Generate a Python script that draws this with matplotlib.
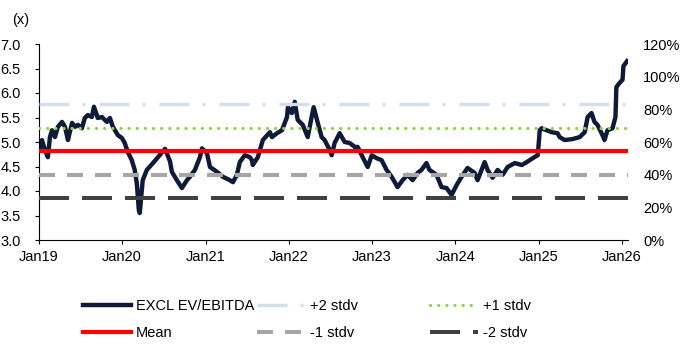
import matplotlib
matplotlib.use("Agg")
import matplotlib.pyplot as plt
import matplotlib.dates as mdates
from matplotlib.ticker import FuncFormatter, FormatStrFormatter
import pandas as pd

plt.rcParams['font.family'] = ['Liberation Sans', 'DejaVu Sans']
plt.rcParams['lines.scale_dashes'] = False

# ---- data -------------------------------------------------------------
dates = [
    "2019-01-01", "2019-01-05", "2019-01-14", "2019-01-27", "2019-02-09", "2019-02-18",
    "2019-02-27", "2019-03-12", "2019-03-25", "2019-04-12", "2019-04-25", "2019-05-08",
    "2019-05-26", "2019-06-08", "2019-06-21", "2019-07-08", "2019-07-21", "2019-08-03",
    "2019-08-21", "2019-08-30", "2019-09-16", "2019-10-04", "2019-10-26", "2019-11-08",
    "2019-11-21", "2019-12-13", "2019-12-31", "2020-01-12", "2020-01-25", "2020-02-12",
    "2020-02-25", "2020-03-05", "2020-03-14", "2020-03-18", "2020-03-31", "2020-04-18",
    "2020-05-15", "2020-06-06", "2020-07-07", "2020-07-29", "2020-08-06", "2020-08-28",
    "2020-09-19", "2020-10-11", "2020-10-24", "2020-11-15", "2020-12-07", "2020-12-16",
    "2021-01-07", "2021-01-20", "2021-02-20", "2021-03-18", "2021-04-17", "2021-05-01",
    "2021-05-18", "2021-05-31", "2021-06-22", "2021-07-14", "2021-07-23", "2021-07-27",
    "2021-08-18", "2021-09-09", "2021-10-10", "2021-10-19", "2021-11-10", "2021-12-02",
    "2021-12-24", "2021-12-28", "2022-01-14", "2022-01-27", "2022-02-09", "2022-03-03",
    "2022-03-25", "2022-04-11", "2022-04-20", "2022-05-08", "2022-05-25", "2022-06-07",
    "2022-06-29", "2022-07-08", "2022-07-21", "2022-08-12", "2022-09-03", "2022-09-25",
    "2022-10-17", "2022-10-30", "2022-11-21", "2022-12-13", "2022-12-31", "2023-01-21",
    "2023-02-12", "2023-03-06", "2023-03-28", "2023-04-23", "2023-05-15", "2023-06-06",
    "2023-06-28", "2023-07-20", "2023-08-06", "2023-08-28", "2023-09-10", "2023-10-11",
    "2023-11-02", "2023-11-24", "2023-12-16", "2024-01-07", "2024-01-29", "2024-02-24",
    "2024-03-26", "2024-04-08", "2024-05-09", "2024-05-22", "2024-06-13", "2024-07-05",
    "2024-07-27", "2024-08-18", "2024-09-18", "2024-10-19", "2024-11-10", "2024-12-06",
    "2024-12-28", "2025-01-06", "2025-01-14", "2025-02-27", "2025-03-25", "2025-04-03",
    "2025-04-25", "2025-05-30", "2025-06-30", "2025-07-22", "2025-08-04", "2025-08-21",
    "2025-09-03", "2025-09-16", "2025-10-08", "2025-10-17", "2025-10-30", "2025-11-21",
    "2025-12-04", "2025-12-08", "2025-12-21", "2026-01-04", "2026-01-08", "2026-01-24",
]
ev_ebitda = [
    4.90, 4.88, 5.04, 4.84, 4.69, 5.10,
    5.24, 5.10, 5.31, 5.41, 5.31, 5.04,
    5.39, 5.31, 5.35, 5.28, 5.49, 5.55,
    5.51, 5.72, 5.49, 5.51, 5.41, 5.49,
    5.31, 5.14, 5.08, 4.98, 4.80, 4.63,
    4.43, 4.16, 3.61, 3.55, 4.22, 4.43,
    4.57, 4.69, 4.86, 4.60, 4.39, 4.22,
    4.06, 4.22, 4.29, 4.43, 4.69, 4.87,
    4.77, 4.49, 4.39, 4.29, 4.22, 4.18,
    4.33, 4.59, 4.73, 4.69, 4.63, 4.53,
    4.69, 5.04, 5.20, 5.10, 5.18, 5.24,
    5.51, 5.71, 5.59, 5.82, 5.45, 5.35,
    5.10, 5.51, 5.71, 5.39, 5.10, 5.04,
    4.84, 4.73, 4.98, 5.18, 5.00, 4.98,
    4.90, 4.90, 4.69, 4.49, 4.73, 4.67,
    4.63, 4.43, 4.29, 4.08, 4.22, 4.33,
    4.22, 4.37, 4.43, 4.57, 4.43, 4.33,
    4.08, 4.06, 3.92, 4.12, 4.29, 4.47,
    4.37, 4.22, 4.59, 4.43, 4.27, 4.43,
    4.33, 4.49, 4.57, 4.53, 4.59, 4.67,
    4.73, 5.24, 5.28, 5.20, 5.18, 5.10,
    5.04, 5.06, 5.10, 5.20, 5.51, 5.59,
    5.41, 5.35, 5.14, 5.04, 5.24, 5.28,
    5.51, 6.12, 6.20, 6.27, 6.55, 6.65,
]
series_label = "EXCL EV/EBITDA"

band_labels = ["+2 stdv", "+1 stdv", "Mean", "-1 stdv", "-2 stdv"]
band_values = [5.77, 5.29, 4.81, 4.33, 3.85]

x_start, x_end = "2019-01-01", "2026-01-28"
left_ticks = [3.0, 3.5, 4.0, 4.5, 5.0, 5.5, 6.0, 6.5, 7.0]
right_ticks = [0, 20, 40, 60, 80, 100, 120]
unit_label = "(x)"

# ---- styles -----------------------------------------------------------
PX = 72 / 100  # points per pixel at 100 dpi
FS = 10.5
series_style = dict(color="#0E1A38", lw=4.4 * PX, solid_joinstyle="round")
band_styles = {
    "+2 stdv": dict(color="#D6DDEA", lw=3.4 * PX, dashes=(30 * PX, 13 * PX, 3 * PX, 14 * PX)),
    "+1 stdv": dict(color="#92D050", lw=3.2 * PX, dashes=(0.1, 8 * PX), dash_capstyle="round"),
    "Mean": dict(color="#FF0000", lw=4.2 * PX, linestyle="-"),
    "-1 stdv": dict(color="#A6A6A6", lw=4.0 * PX, dashes=(16 * PX, 12 * PX)),
    "-2 stdv": dict(color="#404040", lw=4.0 * PX, dashes=(30 * PX, 13 * PX)),
}

W, H = 680, 345
fig = plt.figure(figsize=(W / 100, H / 100), dpi=100)
ax = fig.add_axes([39 / W, 1 - 240 / H, (628 - 39) / W, (240 - 44) / H])

x = pd.to_datetime(dates)
handles = {}
handles[series_label], = ax.plot(x, ev_ebitda, label=series_label, zorder=2, **series_style)
for lab, val in zip(band_labels, band_values):
    handles[lab] = ax.axhline(val, label=lab, zorder=3, **band_styles[lab])

ax.set_xlim(pd.Timestamp(x_start), pd.Timestamp(x_end))
ax.set_ylim(left_ticks[0], left_ticks[-1])
ax.set_yticks(left_ticks)
ax.yaxis.set_major_formatter(FormatStrFormatter("%.1f"))
ax.xaxis.set_major_locator(mdates.YearLocator())
ax.xaxis.set_major_formatter(mdates.DateFormatter("%b%y"))
for side in ("top", "right"):
    ax.spines[side].set_visible(False)
for side in ("left", "bottom"):
    ax.spines[side].set_color("black")
    ax.spines[side].set_linewidth(0.8)
ax.tick_params(axis="y", length=3, width=0.8, pad=10, labelsize=FS, colors="black")
ax.tick_params(axis="x", length=3, width=0.8, pad=4, labelsize=FS, colors="black")

ax2 = ax.twinx()
ax2.set_ylim(right_ticks[0], right_ticks[-1])
ax2.set_yticks(right_ticks)
ax2.yaxis.set_major_formatter(FuncFormatter(lambda v, _: f"{v:.0f}%"))
for s in ax2.spines.values():
    s.set_visible(False)
ax2.tick_params(axis="y", length=0, pad=11, labelsize=FS, colors="black")

fig.text(12 / W, 1 - 20 / H, unit_label, fontsize=FS, va="center", ha="left")

# legend: three fixed-width columns of two rows each
columns = [
    [series_label, "Mean"],
    ["+2 stdv", "-1 stdv"],
    ["+1 stdv", "-2 stdv"],
]
col_x = [83, 257, 430]
for cx, labs in zip(col_x, columns):
    fig.legend([handles[l] for l in labs], labs, loc="center left",
               bbox_to_anchor=(cx / W, 1 - 319.5 / H), frameon=False,
               borderpad=0, borderaxespad=0, handlelength=3.3,
               handletextpad=0.35, labelspacing=0.9, fontsize=FS)

fig.savefig("out.png", dpi=100)
